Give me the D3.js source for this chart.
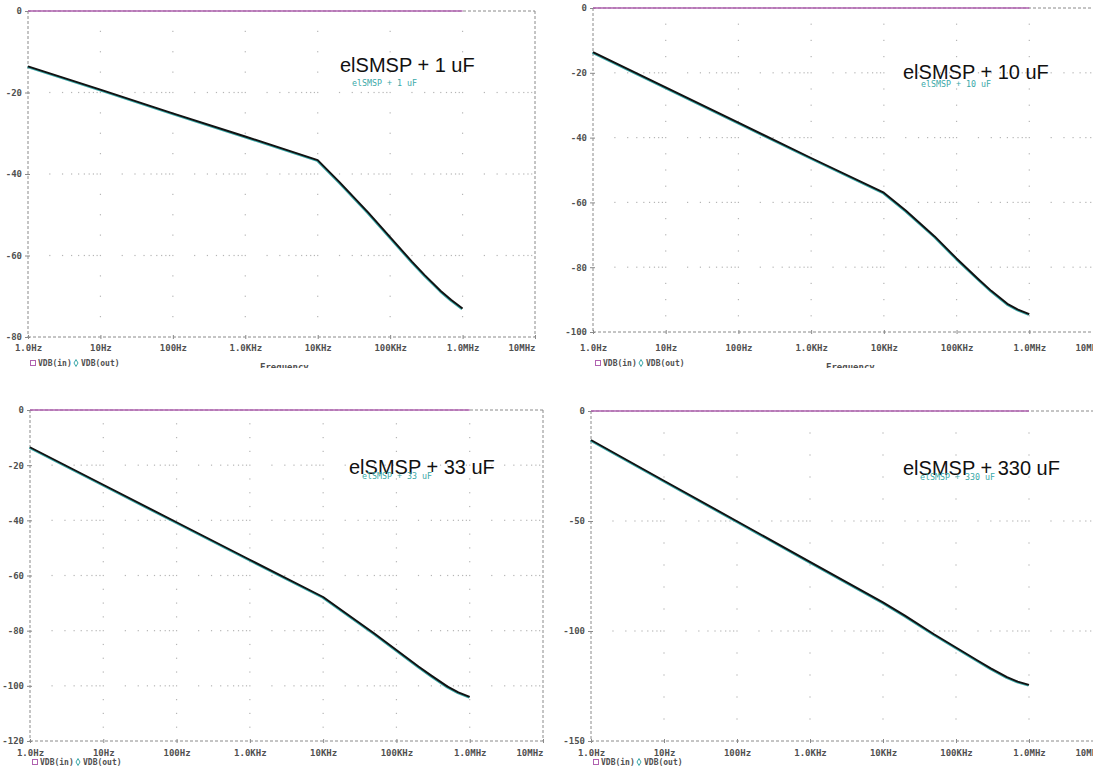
<!DOCTYPE html>
<html><head><meta charset="utf-8">
<script src="https://cdn.jsdelivr.net/npm/d3@7"></script>
<style>body{margin:0;background:#fff;overflow:hidden} svg{display:block}</style>
</head><body>
<svg id="c" width="1093" height="766"></svg>
<script>
// ---- data ----
const freqs = [1, 10, 100, 1e3, 1e4, 2e4, 5e4, 1e5, 2e5, 3e5, 5e5, 7e5, 1e6];
const out1uF   = [-13.6, -19.3, -25.1, -30.8, -36.6, -42.0, -49.5, -55.5, -61.5, -64.8, -68.7, -70.9, -73.0];
const out10uF  = [-13.6, -24.5, -35.4, -46.3, -57.0, -62.5, -70.5, -77.3, -83.7, -87.3, -91.3, -93.1, -94.5];
const out33uF  = [-13.5, -27.1, -40.7, -54.3, -67.8, -73.5, -81.0, -87.0, -93.0, -96.3, -100.3, -102.4, -104.0];
const out330uF = [-13.2, -31.7, -50.1, -68.6, -87.0, -93.0, -101.5, -107.5, -113.5, -117.0, -121.0, -123.0, -124.5];
const inFreqs = [1, 1e6];
const inValues = [0, 0];
const xTickFreqs = [1, 10, 100, 1e3, 1e4, 1e5, 1e6, 1e7];
const xTickLabels = ["1.0Hz", "10Hz", "100Hz", "1.0KHz", "10KHz", "100KHz", "1.0MHz", "10MHz"];
const titles = ["elSMSP + 1 uF", "elSMSP + 10 uF", "elSMSP + 33 uF", "elSMSP + 330 uF"];
const yMins = [-80, -100, -120, -150];
const yMajors = [20, 20, 20, 50];
const yMinors = [5, 5, 5, 10];
const legendIn = "VDB(in)";
const legendOut = "VDB(out)";
const xAxisTitle = "Frequency";

// ---- layout ----
const layout = [
  {x0: 28,  x1: 535,  y0: 11,  y1: 337, clip: [0, 0, 541, 368],   tp: [340, 72],  sp: [352, 86],  lgY: 363, xlY: 351, ft: [260, 370]},
  {x0: 593, x1: 1102, y0: 8,   y1: 332, clip: [545, 0, 548, 368], tp: [903, 79],  sp: [921, 87],  lgY: 363, xlY: 351, ft: [826, 370]},
  {x0: 30,  x1: 543,  y0: 410, y1: 741, clip: [0, 390, 546, 376], tp: [349, 474], sp: [362, 479], lgY: 762, xlY: 756, ft: [265, 775]},
  {x0: 591, x1: 1102, y0: 411, y1: 741, clip: [548, 390, 545, 376], tp: [903, 475], sp: [920, 480], lgY: 762, xlY: 756, ft: [826, 775]}
];
const outs = [out1uF, out10uF, out33uF, out330uF];

const svg = d3.select("#c");
const mono = "'DejaVu Sans Mono', 'Liberation Mono', monospace";
const gridCol = "#b5b5b5";
const axisCol = "#8a8a8a";
const labCol = "#505050";
const purple = "#b062b0";
const teal = "#3aa8a8";

layout.forEach((L, i) => {
  const cid = "clip" + i;
  svg.append("clipPath").attr("id", cid).append("rect")
    .attr("x", L.clip[0]).attr("y", L.clip[1]).attr("width", L.clip[2]).attr("height", L.clip[3]);
  const g = svg.append("g").attr("clip-path", `url(#${cid})`);

  const x = d3.scaleLog().domain([1, 1e7]).range([L.x0, L.x1]);
  const y = d3.scaleLinear().domain([yMins[i], 0]).range([L.y1, L.y0]);

  // grid dots
  const dots = [];
  const majorY = d3.range(yMins[i] + yMajors[i], 0, yMajors[i]);
  const minorY = d3.range(yMins[i] + yMinors[i], 0, yMinors[i]);
  const decades = [10, 100, 1e3, 1e4, 1e5, 1e6];
  majorY.forEach(v => {
    for (let d = 1; d < 1e7; d *= 10) {
      for (let k = 1; k <= 9; k++) {
        const f = d * k;
        if (f === 1) continue;
        dots.push([x(f), y(v)]);
      }
    }
  });
  decades.forEach(f => {
    minorY.forEach(v => { if (v % yMajors[i] !== 0) dots.push([x(f), y(v)]); });
  });
  g.append("g").selectAll("rect").data(dots).join("rect")
    .attr("x", d => d[0] - 0.6).attr("y", d => d[1] - 0.6)
    .attr("width", 1.2).attr("height", 1.2).attr("fill", gridCol);

  // frame (dashed)
  const frame = g.append("g").attr("stroke", axisCol).attr("stroke-width", 1)
    .attr("stroke-dasharray", "3,2").attr("fill", "none");
  frame.append("line").attr("x1", L.x0).attr("x2", L.x0).attr("y1", L.y0).attr("y2", L.y1);
  frame.append("line").attr("x1", L.x1).attr("x2", L.x1).attr("y1", L.y0).attr("y2", L.y1);
  frame.append("line").attr("x1", L.x0).attr("x2", L.x1).attr("y1", L.y1).attr("y2", L.y1);
  frame.append("line").attr("x1", L.x0).attr("x2", L.x1).attr("y1", L.y0).attr("y2", L.y0);

  // y axis ticks + labels
  const yAxis = d3.axisLeft(y).tickValues(d3.range(yMins[i], 1, yMajors[i]))
    .tickSize(3).tickPadding(3).tickFormat(d => d3.format("d")(d).replace("−", "-"));
  const ya = g.append("g").attr("transform", `translate(${L.x0},0)`).call(yAxis);
  ya.select(".domain").remove();
  ya.selectAll("line").attr("stroke", axisCol).attr("x2", -3).attr("x1", 2);
  ya.selectAll("text").attr("font-family", mono).attr("font-size", 9)
    .attr("font-weight", "bold").attr("fill", labCol);

  // x axis ticks + labels
  const xAxis = d3.axisBottom(x).tickValues(xTickFreqs)
    .tickFormat((d, j) => xTickLabels[j]).tickSize(3).tickPadding(3);
  const xa = g.append("g").attr("transform", `translate(0,${L.y1})`).call(xAxis);
  xa.select(".domain").remove();
  xa.selectAll("line").attr("stroke", axisCol).attr("y1", -2).attr("y2", 2);
  xa.selectAll("text").attr("font-family", mono).attr("font-size", 9)
    .attr("font-weight", "bold").attr("fill", labCol)
    .attr("y", L.xlY - L.y1).attr("dy", "0")
    .attr("text-anchor", (d, j) => j === xTickFreqs.length - 1 ? "end" : "middle");

  // VDB(in) purple
  const line = d3.line().x(d => x(d[0])).y(d => y(d[1])).curve(d3.curveLinear);
  g.append("path").datum(inFreqs.map((f, j) => [f, inValues[j]]))
    .attr("d", line)
    .attr("stroke", purple).attr("stroke-width", 1.6).attr("fill", "none");

  // VDB(out): teal underlay + black
  const pts = freqs.map((f, j) => [f, outs[i][j]]);
  g.append("path").datum(pts).attr("d", line)
    .attr("transform", "translate(-0.6,0.7)")
    .attr("stroke", teal).attr("stroke-width", 2).attr("fill", "none")
    .attr("stroke-linejoin", "round");
  g.append("path").datum(pts).attr("d", line)
    .attr("stroke", "#111").attr("stroke-width", 1.9).attr("fill", "none")
    .attr("stroke-linejoin", "round");

  // annotations
  g.append("text").attr("x", L.tp[0]).attr("y", L.tp[1]).text(titles[i])
    .attr("font-family", "Arial, 'Liberation Sans', sans-serif").attr("font-size", 20).attr("fill", "#111");
  g.append("text").attr("x", L.sp[0]).attr("y", L.sp[1]).text(titles[i])
    .attr("font-family", mono).attr("font-size", 8.3).attr("fill", teal);

  // legend
  const lg = g.append("g").attr("transform", `translate(${L.x0 + 2},${L.lgY})`);
  lg.append("rect").attr("x", 0.5).attr("y", -2.5).attr("width", 5).attr("height", 5)
    .attr("fill", "none").attr("stroke", purple).attr("stroke-width", 1);
  lg.append("text").attr("x", 8).attr("y", 3).text(legendIn)
    .attr("font-family", mono).attr("font-size", 8).attr("font-weight", "bold").attr("fill", labCol);
  lg.append("path").attr("d", d3.symbol(d3.symbolDiamond, 14)()).attr("transform", "translate(46,0)")
    .attr("fill", "none").attr("stroke", teal).attr("stroke-width", 1);
  lg.append("text").attr("x", 51).attr("y", 3).text(legendOut)
    .attr("font-family", mono).attr("font-size", 8).attr("font-weight", "bold").attr("fill", labCol);

  // x axis title (cut by the crop, as in the reference)
  g.append("text").attr("x", L.ft[0]).attr("y", L.ft[1]).text(xAxisTitle)
    .attr("font-family", mono).attr("font-size", 9).attr("font-weight", "bold").attr("fill", labCol);
});
</script>
</body></html>
